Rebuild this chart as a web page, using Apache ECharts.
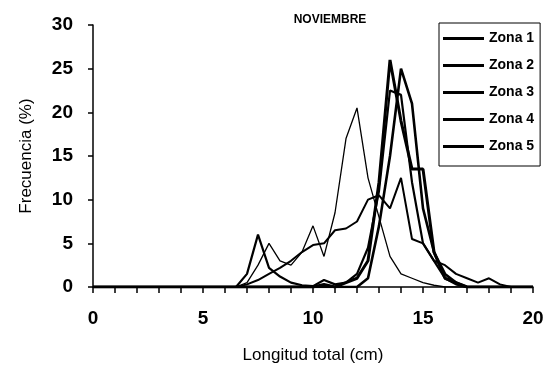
<!DOCTYPE html>
<html><head><meta charset="utf-8">
<script src="https://cdn.jsdelivr.net/npm/echarts@6/dist/echarts.min.js"></script>
<style>html,body{margin:0;padding:0;background:#fff}#c{width:550px;height:371px}</style>
</head><body><div id="c"></div>
<script>
// x positions (cm), every 0.5 from 0 to 20
var xs = [0,0.5,1,1.5,2,2.5,3,3.5,4,4.5,5,5.5,6,6.5,7,7.5,8,8.5,9,9.5,10,10.5,11,11.5,12,12.5,13,13.5,14,14.5,15,15.5,16,16.5,17,17.5,18,18.5,19,19.5,20];
//            0 .5 1 1.5 2 2.5 3 3.5 4 4.5 5 5.5 6 6.5  7   7.5  8   8.5  9   9.5  10  10.5 11  11.5 12  12.5 13  13.5 14  14.5 15  15.5 16  16.5 17  17.5 18  18.5 19 19.5 20
var zona1 = [0,0,0,0,0,0,0,0,0,0,0,0,0,0,  0.3,0.8,1.5,2.2,3,  4,  4.8,5,  6.5,6.7,7.5,10, 10.5,9,  12.5,5.5,5,  3,  2.5,1.5,1,  0.5,1,  0.3,0,0,0];
var zona2 = [0,0,0,0,0,0,0,0,0,0,0,0,0,0,  1.5,6,  2.2,1.2,0.5,0.2,0.1,0.8,0.3,0.5,1.5,4.5,11, 22.5,22, 12, 5,  3,  1,  0.3,0,  0,  0,  0,  0,0,0];
var zona3 = [0,0,0,0,0,0,0,0,0,0,0,0,0,0,  0.5,2.5,5,  3,  2.5,4,  7,  3.5,8.5,17, 20.5,12.5,8, 3.5,1.5,1,  0.5,0.2,0,  0,  0,  0,  0,  0,  0,0,0];
var zona4 = [0,0,0,0,0,0,0,0,0,0,0,0,0,0,  0,  0,  0,  0,  0,  0,  0,  0.3,0,  0.5,1,  3,  12, 26, 19, 13.5,13.5,4,1,  0.5,0,  0,  0,  0,  0,0,0];
var zona5 = [0,0,0,0,0,0,0,0,0,0,0,0,0,0,  0,  0,  0,  0,  0,  0,  0,  0,  0,  0,  0,  1,  7,  15, 25, 21, 9,  4,  1.5,0.5,0,  0,  0,  0,  0,0,0];
var seriesNames = ['Zona 1','Zona 2','Zona 3','Zona 4','Zona 5'];
var seriesData = [zona1, zona2, zona3, zona4, zona5];
var widths = [2, 2.2, 1.3, 3, 2.6];
var xTickLabels = [0,5,10,15,20];
var yTickLabels = [0,5,10,15,20,25,30];

function pairs(arr){ return xs.map(function(x,i){ return [x, arr[i]]; }); }

var chart = echarts.init(document.getElementById('c'));
chart.setOption({
  animation:false,
  backgroundColor:'#fff',
  title:{text:'NOVIEMBRE', left:325, top:9, textAlign:'center',
    textStyle:{fontFamily:'Liberation Sans', fontSize:12, fontWeight:'bold', color:'#000'}},
  grid:{left:93, right:17, top:25, bottom:84},
  legend:{orient:'vertical', left:439, top:23,
    borderColor:'#000', borderWidth:1, padding:[7,6,11,4], itemGap:10,
    itemWidth:41, itemHeight:3, icon:'rect',
    textStyle:{fontFamily:'Liberation Sans', fontSize:14, fontWeight:'bold', color:'#000', lineHeight:17},
    data:seriesNames.map(function(n,i){ return {name:n, itemStyle:{color:'#000'}}; })},
  xAxis:{type:'value', min:0, max:20, interval:1,
    name:'Longitud total (cm)', nameLocation:'middle', nameGap:60,
    nameTextStyle:{fontFamily:'Liberation Sans', fontSize:17, color:'#000'},
    axisLine:{lineStyle:{color:'#000', width:1.5}},
    axisTick:{inside:false, length:6, lineStyle:{color:'#000', width:1.5}},
    splitLine:{show:false},
    axisLabel:{margin:22, fontFamily:'Liberation Sans', fontSize:19, fontWeight:'bold', color:'#000',
      formatter:function(v){ return xTickLabels.indexOf(v) >= 0 ? String(v) : ''; }}},
  yAxis:{type:'value', min:0, max:30, interval:5,
    name:'Frecuencia (%)', nameLocation:'middle', nameGap:58,
    nameTextStyle:{fontFamily:'Liberation Sans', fontSize:17, color:'#000'},
    axisLine:{show:true, lineStyle:{color:'#000', width:1.5}},
    axisTick:{show:true, length:5, lineStyle:{color:'#000', width:1.5}},
    splitLine:{show:false},
    axisLabel:{margin:20, fontFamily:'Liberation Sans', fontSize:19, fontWeight:'bold', color:'#000',
      formatter:function(v){ return yTickLabels.indexOf(v) >= 0 ? String(v) : ''; }}},
  series: seriesNames.map(function(n,i){
    return {name:n, type:'line', data:pairs(seriesData[i]), showSymbol:false, symbol:'none',
      lineStyle:{color:'#000', width:widths[i]}, itemStyle:{color:'#000'}};
  })
});
</script></body></html>
